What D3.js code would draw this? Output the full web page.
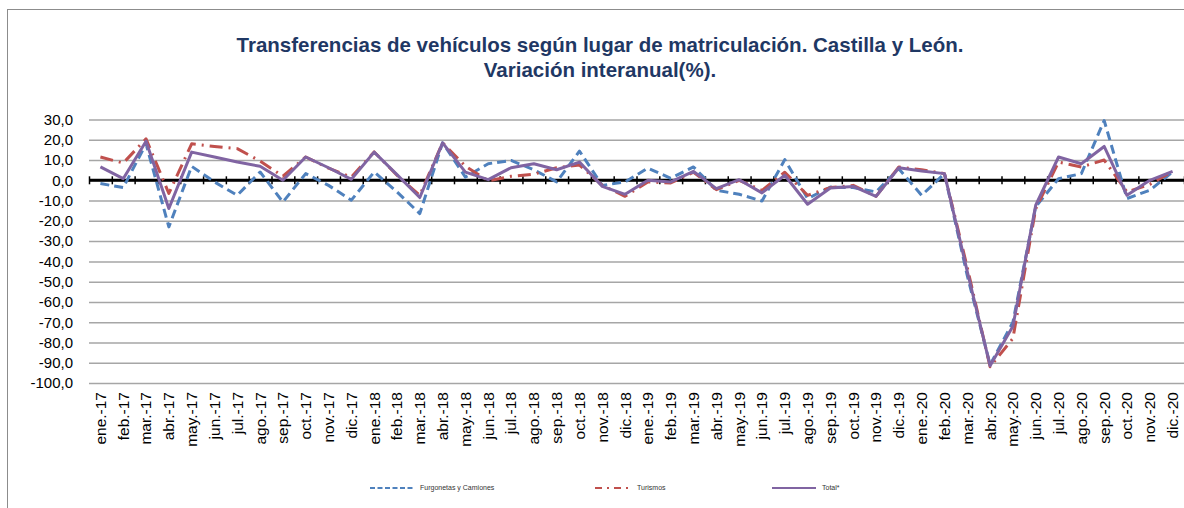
<!DOCTYPE html>
<html>
<head>
<meta charset="utf-8">
<script src="https://cdn.jsdelivr.net/npm/d3@7"></script>
<style>
  html, body { margin: 0; padding: 0; background: #fff; }
  svg { display: block; font-family: "Liberation Sans", Arial, sans-serif; }
</style>
</head>
<body>
<figure style="margin:0"></figure>
<script>
const years = ['17', '18', '19', '20'];
const monthNames = ['ene.', 'feb.', 'mar.', 'abr.', 'may.', 'jun.', 'jul.', 'ago.', 'sep.', 'oct.', 'nov.', 'dic.'];
const months = years.flatMap(y => monthNames.map(m => `${m}-${y}`));

const yTicks = [30, 20, 10, 0, -10, -20, -30, -40, -50, -60, -70, -80, -90, -100];

const furgonetas = [
  -1.6, -3.6, 18, -23, 6.9, -0.8, -7.4, 4.1, -10.7, 3.3, -2.5, -9.8,
  4.1, -5.7, -16.4, 18.5, 1.6, 8.2, 9.8, 5.2, -0.8, 14.4, -2.5, -0.8,
  6, 1, 6.6, -4.9, -6.9, -10.2, 10.2, -9, -3.3, -3.6, -5.7, 5.7,
  -7.4, 3.3, -47, -91, -70, -13, 0.8, 3.3, 29.5, -9, -4.9, 4.1
];
const turismos = [
  11.5, 8.5, 20.5, -6.5, 18, 16.7, 15.6, 9.5, 2, 11.5, 6, 1.6,
  14, 2.5, -7.4, 18.5, 7, -0.3, 2, 3, 6.2, 7.5, -2.5, -7.9,
  -0.8, -1.3, 4, -4.6, 0, -5, 4, -7.4, -3.6, -2.5, -7.9, 6.6,
  5.2, 3.3, -43, -92, -78, -14, 9, 6.6, 10, -5.7, -2, 4.5
];
const total = [
  6.6, 0.8, 19.3, -13.9, 13.9, 11.5, 9, 6.9, 0, 11.5, 6.2, 0.5,
  13.9, 2.8, -8.5, 18.5, 4, 0.3, 6.2, 8.2, 5.2, 9, -3, -6.9,
  0, -0.8, 4.4, -4.1, 0.3, -6.2, 2.5, -11.8, -3.8, -3, -7.9, 6.2,
  4.6, 3.3, -45, -91.5, -72, -12.3, 11.5, 8.2, 16.7, -7.4, 0, 4.4
];

const seriesNames = ['Furgonetas y Camiones', 'Turismos', 'Total*'];

(() => {
  const width = 1184;
  const height = 508;
  const plot = {left: 89, right: 1184, top: 119.5, bottom: 383};

  const svg = d3.select('figure').append('svg')
    .attr('width', width)
    .attr('height', height);

  // chart frame
  svg.append('rect')
    .attr('x', 7.5).attr('y', 9.5)
    .attr('width', 1200).attr('height', 520)
    .attr('fill', 'none')
    .attr('stroke', '#8c8c8c')
    .attr('stroke-width', 1);

  const title = svg.append('text')
    .attr('text-anchor', 'middle')
    .attr('fill', '#1F3864')
    .style('font-weight', 'bold')
    .style('font-size', '20.5px');
  title.append('tspan').attr('x', 600).attr('y', 52)
    .text('Transferencias de vehículos según lugar de matriculación. Castilla y León.');
  title.append('tspan').attr('x', 600).attr('y', 77)
    .text('Variación interanual(%).');

  const x = d3.scaleBand()
    .domain(months)
    .range([plot.left, plot.right]);

  const xi = d3.scaleLinear()
    .domain([0, months.length])
    .range([plot.left, plot.right]);

  const y = d3.scaleLinear()
    .domain([-100, 30])
    .range([plot.bottom, plot.top]);

  // gridlines + y labels
  const yAxis = d3.axisLeft(y)
    .tickValues(yTicks)
    .tickSize(-(plot.right - plot.left))
    .tickPadding(16)
    .tickFormat(d => d3.format('.1f')(d).replace('.', ',').replace('−', '-'));

  svg.append('g')
    .attr('transform', `translate(${plot.left},0)`)
    .call(yAxis)
    .call(g => g.select('.domain').remove())
    .call(g => g.selectAll('.tick line')
      .attr('stroke', '#a6a6a6')
      .attr('stroke-width', 1.5))
    .call(g => g.selectAll('.tick text')
      .attr('fill', '#000')
      .style('font-size', '15px')
      .style('font-family', '"Liberation Sans", Arial, sans-serif'));

  // zero axis line with boundary ticks
  svg.append('g')
    .attr('transform', `translate(0,${y(0) - 4})`)
    .call(d3.axisBottom(xi).tickValues(d3.range(months.length + 1)).tickSize(8).tickFormat(''))
    .call(g => g.select('.domain').remove())
    .call(g => g.selectAll('.tick line').attr('stroke', '#000').attr('stroke-width', 1.5));

  svg.append('line')
    .attr('x1', plot.left).attr('x2', plot.right)
    .attr('y1', y(0)).attr('y2', y(0))
    .attr('stroke', '#000')
    .attr('stroke-width', 3);

  // category labels at the bottom
  svg.append('g')
    .attr('transform', `translate(0,${plot.bottom})`)
    .call(d3.axisBottom(x).tickSize(0).tickPadding(0))
    .call(g => g.select('.domain').remove())
    .call(g => g.selectAll('.tick text')
      .attr('transform', 'rotate(-90)')
      .attr('text-anchor', 'end')
      .attr('x', -9)
      .attr('y', 0)
      .attr('dy', '0.35em')
      .attr('fill', '#000')
      .style('font-size', '15.5px')
      .style('font-family', '"Liberation Sans", Arial, sans-serif'));

  const line = d3.line()
    .x((d, i) => x(months[i]) + x.bandwidth() / 2)
    .y(d => y(d));

  const styles = [
    {data: furgonetas, color: '#4F81BD', dash: '9,5'},
    {data: turismos, color: '#C0504D', dash: '13,6,2,6'},
    {data: total, color: '#8064A2', dash: null}
  ];

  styles.forEach(s => {
    svg.append('path')
      .datum(s.data)
      .attr('fill', 'none')
      .attr('stroke', s.color)
      .attr('stroke-width', 3)
      .attr('stroke-linejoin', 'round')
      .attr('stroke-dasharray', s.dash)
      .attr('d', line);
  });

  // legend
  const legendX = [370, 595, 772];
  const legend = svg.append('g').attr('transform', 'translate(0,488)');
  styles.forEach((s, i) => {
    legend.append('line')
      .attr('x1', legendX[i]).attr('x2', legendX[i] + (i === 1 ? 36 : 44))
      .attr('y1', 0).attr('y2', 0)
      .attr('stroke', s.color)
      .attr('stroke-width', 2)
      .attr('stroke-dasharray', i === 0 ? '5,2.5' : i === 1 ? '7,5,2,5' : null);
    legend.append('text')
      .attr('x', legendX[i] + (i === 1 ? 42 : 50))
      .attr('y', 0)
      .attr('dy', '0.35em')
      .attr('fill', '#333')
      .style('font-size', '7px')
      .text(seriesNames[i]);
  });
})();
</script>
</body>
</html>
